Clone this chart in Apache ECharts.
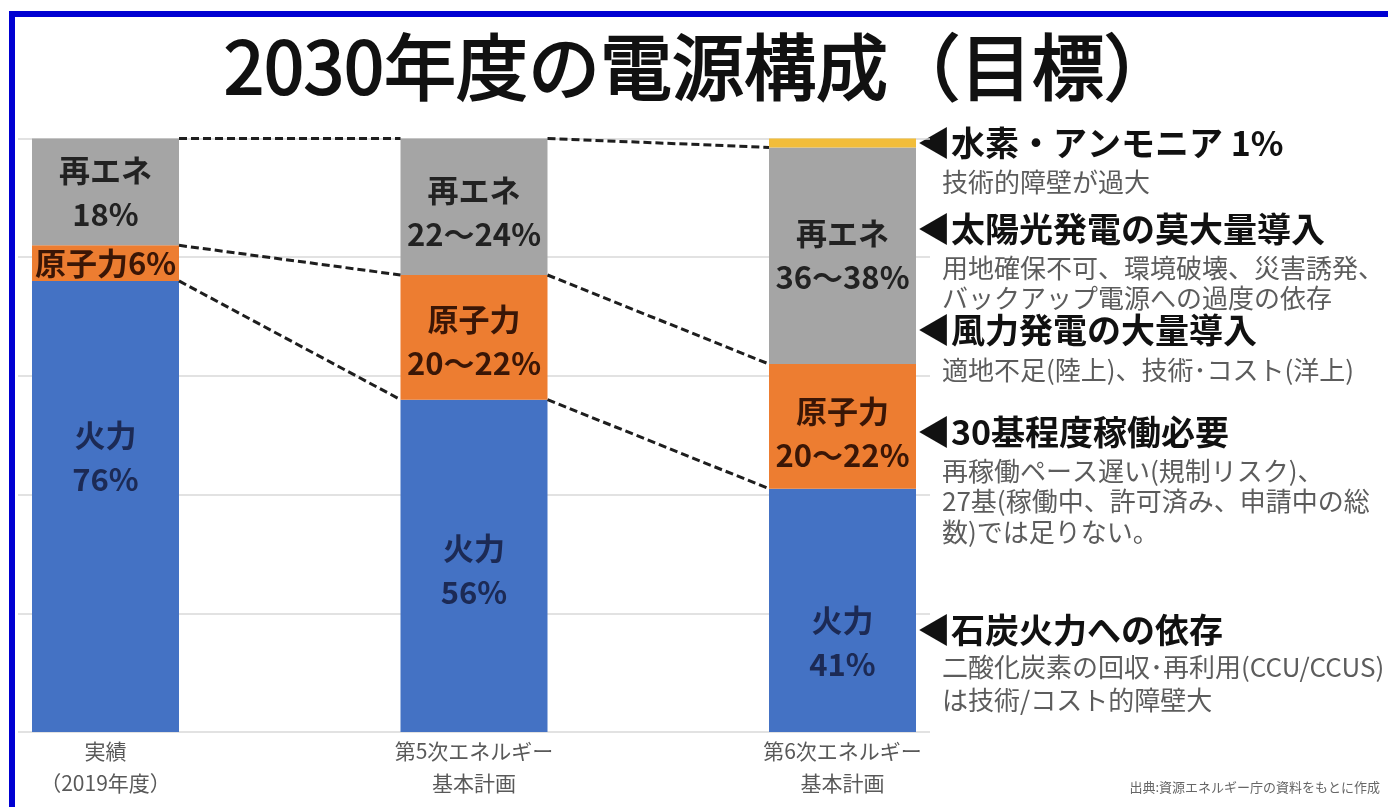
<!DOCTYPE html>
<html>
<head>
<meta charset="utf-8">
<script src="https://cdn.jsdelivr.net/npm/echarts@6/dist/echarts.min.js"></script>
<style>
html,body{margin:0;padding:0;background:#fff;}
#chart{width:1388px;height:807px;}
</style>
</head>
<body>
<div id="chart"></div>
<script>
// ---- data ----
var categories = ['実績\n（2019年度）', '第5次エネルギー\n基本計画', '第6次エネルギー\n基本計画'];
var thermal   = [76, 56, 41];      // 火力
var nuclear   = [6, 21, 21];       // 原子力
var renewable = [18, 23, 36.5];    // 再エネ
var hydrogen  = [0, 0, 1.5];       // 水素・アンモニア
var thermalLabels   = ['火力\n76%', '火力\n56%', '火力\n41%'];
var nuclearLabels   = ['原子力6%', '原子力\n20〜22%', '原子力\n20〜22%'];
var renewableLabels = ['再エネ\n18%', '再エネ\n22〜24%', '再エネ\n36〜38%'];
var yTicks = [0, 20, 40, 60, 80, 100];
var title = '2030年度の電源構成（目標）';
var notes = [
  { head: '◀水素・アンモニア 1%', sub: ['技術的障壁が過大'] },
  { head: '◀太陽光発電の莫大量導入', sub: ['用地確保不可、環境破壊、災害誘発、', 'バックアップ電源への過度の依存'] },
  { head: '◀風力発電の大量導入', sub: ['適地不足(陸上)、技術･コスト(洋上)'] },
  { head: '◀30基程度稼働必要', sub: ['再稼働ペース遅い(規制リスク)、', '27基(稼働中、許可済み、申請中の総', '数)では足りない。'] },
  { head: '◀石炭火力への依存', sub: ['二酸化炭素の回収･再利用(CCU/CCUS)', 'は技術/コスト的障壁大'] }
];
var source = '出典:資源エネルギー庁の資料をもとに作成';

// ---- layout / style ----
var FONT = '"Noto Sans CJK JP", "Noto Sans", sans-serif';
var BAR_W = 147, SPACING = 368.5;
var half = (BAR_W / 2) / SPACING;
var noteHeadY = [143, 229, 330, 432, 630];
var noteSubY = [[182], [268, 298], [370], [471, 501, 532], [667, 700]];
var thermalOffset = [[0, -49], [0, 4], [0, 32]];
var nuclearOffset = [[0, 0], [0, 4], [0, 7]];
var renewOffset = [[0, 0], [0, 5], [0, 0]];

function items(vals, labels, offs, color) {
  return vals.map(function (v, i) {
    return { value: v, label: { formatter: labels ? labels[i] : '', offset: offs ? offs[i] : [0, 0], color: color } };
  });
}

var series = [];
function barSeries(name, vals, labels, offs, color, textColor) {
  return {
    name: name, type: 'bar', stack: 'total', xAxisIndex: 0, yAxisIndex: 0,
    barWidth: BAR_W, clip: false, itemStyle: { color: color },
    label: { show: !!labels, position: 'inside', fontFamily: FONT, fontSize: 31, fontWeight: 'bold', lineHeight: 44, color: textColor },
    data: items(vals, labels, offs, textColor),
    z: 3
  };
}
series.push(barSeries('火力', thermal, thermalLabels, thermalOffset, '#4472c4', '#1c2a55'));
series.push(barSeries('原子力', nuclear, nuclearLabels, nuclearOffset, '#ed7d31', '#3a1606'));
series.push(barSeries('再エネ', renewable, renewableLabels, renewOffset, '#a5a5a5', '#222222'));
series.push(barSeries('水素・アンモニア', hydrogen, null, null, '#f2bd3a', '#222'));

// dashed connectors between cumulative levels of neighbouring bars
var levels = [];
for (var i = 0; i < categories.length; i++) {
  levels.push([thermal[i], thermal[i] + nuclear[i], thermal[i] + nuclear[i] + renewable[i]]);
}
for (var i = 0; i < categories.length - 1; i++) {
  for (var k = 0; k < 3; k++) {
    series.push({
      type: 'line', xAxisIndex: 1, yAxisIndex: 0, symbol: 'none', silent: true, z: 4,
      lineStyle: { color: '#1e1e1e', width: 3, type: [8, 4] },
      data: [[i + half, levels[i][k]], [i + 1 - half, levels[i + 1][k]]]
    });
  }
}

var graphics = [
  { type: 'rect', shape: { x: 12, y: 14, width: 1420, height: 900 }, style: { fill: 'none', stroke: '#0000d2', lineWidth: 6 }, z: 100 },
  { type: 'text', x: 700, y: 67, style: { text: title, font: '72px ' + FONT, fill: '#111', stroke: '#111', lineWidth: 2, textAlign: 'center', textVerticalAlign: 'middle' } },
  { type: 'text', x: 1380, y: 787, style: { text: source, font: '13px ' + FONT, fill: '#666', textAlign: 'right', textVerticalAlign: 'middle' } }
];
notes.forEach(function (n, i) {
  graphics.push({ type: 'text', x: 917, y: noteHeadY[i], style: { text: n.head, font: 'bold 34px ' + FONT, fill: '#111', textVerticalAlign: 'middle' } });
  n.sub.forEach(function (s, j) {
    graphics.push({ type: 'text', x: 942, y: noteSubY[i][j], style: { text: s, font: '26px ' + FONT, fill: '#5c5c5c', textVerticalAlign: 'middle' } });
  });
});

var chart = echarts.init(document.getElementById('chart'));
chart.setOption({
  backgroundColor: '#fff',
  animation: false,
  grid: [
    { left: 105.5, right: 1388 - 842.5, top: 138.5, bottom: 75 },
    { left: 18, right: 1388 - 930, top: 138.5, bottom: 75 }
  ],
  xAxis: [
    { type: 'category', gridIndex: 0, data: categories, boundaryGap: false,
      axisLine: { show: false }, axisTick: { show: false }, splitLine: { show: false },
      axisLabel: { interval: 0, margin: 3, fontFamily: FONT, fontSize: 21, lineHeight: 32, color: '#595959' } },
    { type: 'value', gridIndex: 0, min: 0, max: categories.length - 1, show: false },
    { type: 'value', gridIndex: 1, min: 0, max: 1, show: false }
  ],
  yAxis: [
    { type: 'value', gridIndex: 0, min: yTicks[0], max: yTicks[yTicks.length - 1], show: false },
    { type: 'value', gridIndex: 1, min: yTicks[0], max: yTicks[yTicks.length - 1], interval: yTicks[1] - yTicks[0],
      axisLine: { show: false }, axisTick: { show: false }, axisLabel: { show: false },
      splitLine: { show: true, lineStyle: { color: '#d9d9d9', width: 1.5 } } }
  ],
  series: series,
  graphic: graphics
});
</script>
</body>
</html>
